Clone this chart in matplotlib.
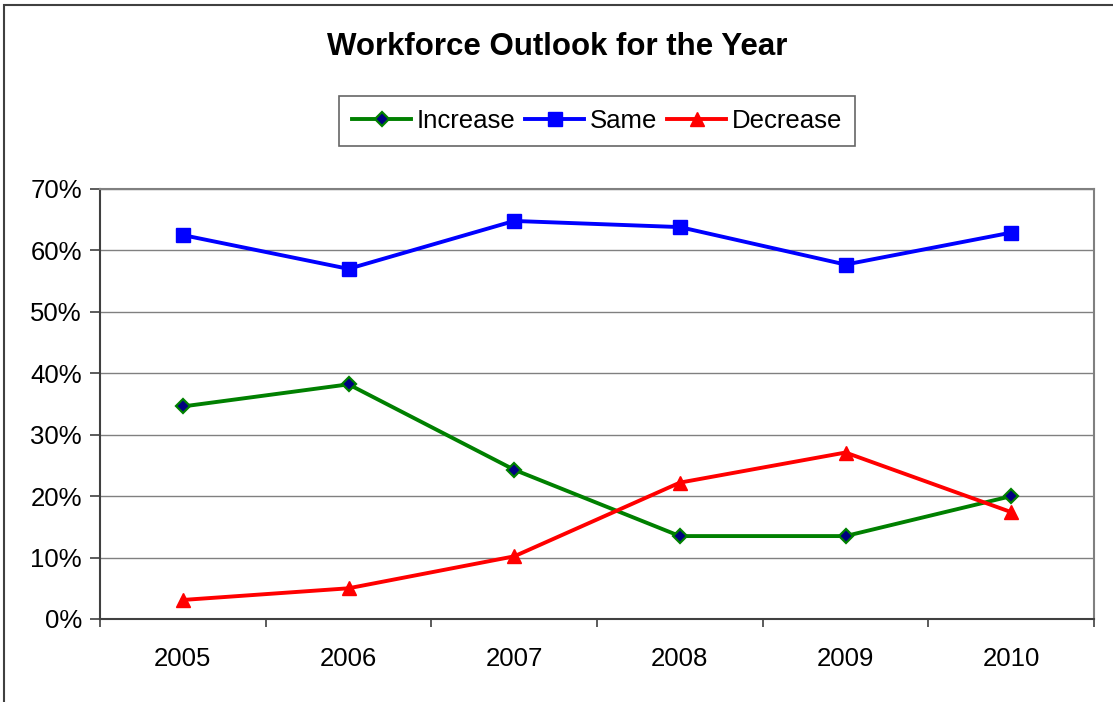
"""Workforce outlook line chart, Excel style."""
import matplotlib
matplotlib.use("Agg")
import matplotlib.pyplot as plt
from matplotlib.patches import Rectangle
import numpy as np

years = ["2005", "2006", "2007", "2008", "2009", "2010"]
increase = [34.6, 38.2, 24.3, 13.5, 13.5, 20.0]
same = [62.5, 57.0, 64.8, 63.8, 57.7, 62.9]
decrease = [3.1, 5.0, 10.2, 22.2, 27.1, 17.4]

W, H = 1113, 702
plt.rcParams.update({"font.family": ["Liberation Sans", "DejaVu Sans"]})

fig = plt.figure(figsize=(W / 100, H / 100), dpi=100)
fig.patch.set_facecolor("white")

# outer chart frame (only left/top edges visible in the picture)
fig.patches.append(Rectangle((4 / W, -0.1), 1.2, 1 - 5 / H + 0.1,
                             transform=fig.transFigure, fill=False,
                             edgecolor="#404040", linewidth=1.5))

ax = fig.add_axes([100 / W, (H - 619) / H, 994 / W, 430 / H])
x = np.arange(len(years))

ax.plot(x, increase, color="#008000", lw=2.8, marker="D", ms=7.5,
        mfc="#000080", mec="#008000", mew=1.6, label="Increase")
ax.plot(x, same, color="#0000FF", lw=2.8, marker="s", ms=10,
        mfc="#0000FF", mec="#0000FF", label="Same")
ax.plot(x, decrease, color="#FF0000", lw=2.8, marker="^", ms=10.5,
        mfc="#FF0000", mec="#FF0000", label="Decrease")

ax.set_xlim(-0.5, len(years) - 0.5)
ax.set_ylim(0, 70)
ax.set_yticks(range(0, 71, 10))
ax.set_yticklabels([f"{v}%" for v in range(0, 71, 10)], fontsize=18.5)
ax.set_xticks(x)
ax.set_xticklabels(years, fontsize=18.5)
ax.set_xticks(np.arange(-0.5, len(years)), minor=True)
ax.tick_params(axis="x", which="major", length=0, pad=20)
ax.tick_params(axis="x", which="minor", length=6, width=1.2, color="#404040")
ax.tick_params(axis="y", length=7, width=1.2, color="#404040", pad=6)

ax.grid(axis="y", color="#808080", lw=1)
ax.set_axisbelow(True)
for side in ("top", "right"):
    ax.spines[side].set_color("#808080")
    ax.spines[side].set_linewidth(1.5)
for side in ("left", "bottom"):
    ax.spines[side].set_color("#404040")
    ax.spines[side].set_linewidth(1.5)

fig.text(557 / W, 1 - 47 / H, "Workforce Outlook for the Year",
         ha="center", va="center", fontsize=22.5, fontweight="bold")

leg = fig.legend(loc="center", bbox_to_anchor=(597 / W, 1 - 121 / H),
                 ncol=3, fontsize=18.5, frameon=True, fancybox=False,
                 edgecolor="#404040", handlelength=2.3, handletextpad=0.2,
                 columnspacing=0.4, borderpad=0.5)
leg.get_frame().set_linewidth(1.2)

fig.savefig("out.png", dpi=100)
